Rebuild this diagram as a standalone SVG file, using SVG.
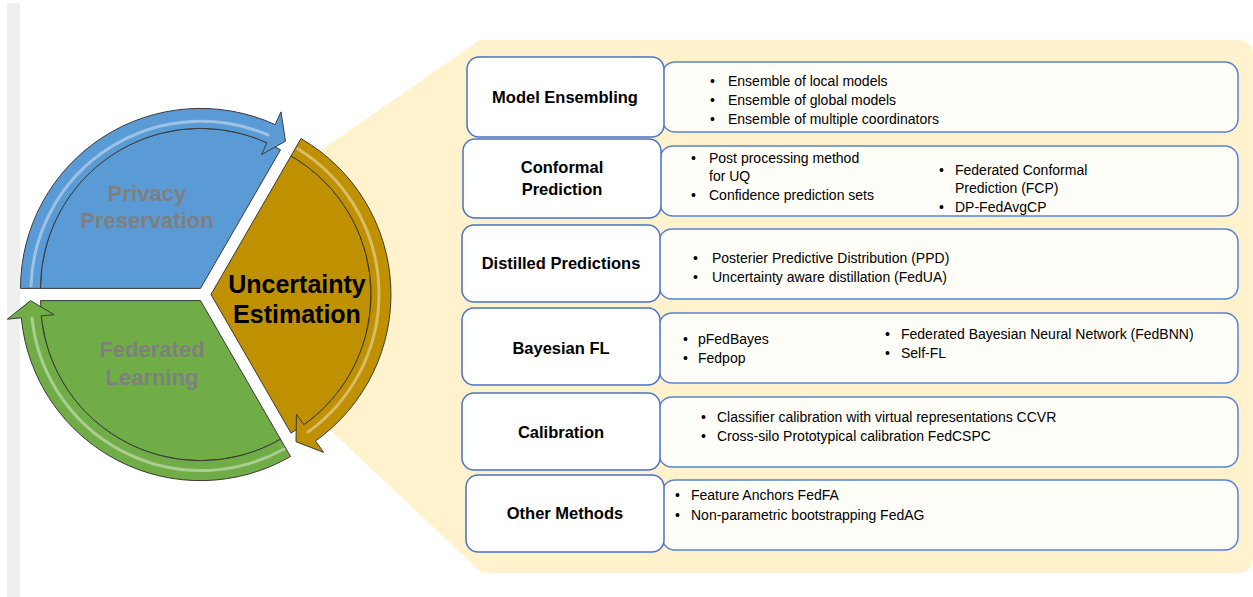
<svg xmlns="http://www.w3.org/2000/svg" width="1253" height="597" viewBox="0 0 1253 597">
<style>
.seg{stroke:#3a3a3a;stroke-width:1;stroke-linejoin:round}
.hl{fill:none;stroke:#ffffff;stroke-opacity:0.4;stroke-width:3;stroke-linecap:round}
.ring{font-family:"Liberation Sans",Arial,sans-serif;font-weight:bold;font-size:22px;fill:#7f7f7f;text-anchor:middle}
.main{font-family:"Liberation Sans",Arial,sans-serif;font-weight:bold;font-size:25px;fill:#000000;text-anchor:middle}
.tbox{fill:#ffffff;stroke:#4a72c4;stroke-width:1.5}
.cbox{fill:#fffdf8;stroke:#5b82d2;stroke-width:1.5}
.title{font-family:"Liberation Sans",Arial,sans-serif;font-weight:bold;font-size:16.5px;fill:#000000;text-anchor:middle}
.item{font-family:"Liberation Sans",Arial,sans-serif;font-size:14px;fill:#000000}
</style>
<rect x="0" y="0" width="1253" height="597" fill="#ffffff"/>
<rect x="7" y="3" width="13" height="594" fill="#efefef"/>
<path id="callout" d="M300,165 L480,40 H1237 Q1253,40 1253,56 V557 Q1253,573 1237,573 H482 L310,411 Z" fill="#fff2cc"/>

<g id="privacy-preservation">
<path class="seg" fill="#5b9bd5" d="M200.5,288.4 L40.5,288.4 A160,160 0 0 1 280.5,149.8 Z"/>
<path class="seg" fill="#5b9bd5" d="M20.5,288.4 A180,180 0 0 1 275.1,124.6 L281,111.9 L285.5,141.2 L261.5,154.6 L266.9,142.8 A160,160 0 0 0 40.5,288.4 Z"/>
<path class="hl" d="M31,286 A170,170 0 0 1 268,135"/>
<text class="ring" x="147" y="201">Privacy</text>
<text class="ring" x="147" y="228">Preservation</text>
</g>

<g id="uncertainty-estimation">
<path class="seg" fill="#bf9000" d="M211,294.5 L291,155.9 A160,160 0 0 1 291,433.1 Z"/>
<path class="seg" fill="#bf9000" d="M301,138.6 A180,180 0 0 1 315.5,441 L323.7,452.4 L296,441.7 L296.4,414.2 L303.9,424.8 A160,160 0 0 0 291,155.9 Z"/>
<path class="hl" d="M298,149 A170,170 0 0 1 308,432"/>
<text class="main" x="297" y="293">Uncertainty</text>
<text class="main" x="297" y="323">Estimation</text>
</g>

<g id="federated-learning">
<path class="seg" fill="#70ad47" d="M200.5,300.6 L280.5,439.2 A160,160 0 0 1 40.5,300.6 Z"/>
<path class="seg" fill="#70ad47" d="M290.5,456.5 A180,180 0 0 1 21.3,317.8 L7.4,319.2 L30.5,300.6 L54.2,314.7 L41.2,315.9 A160,160 0 0 0 280.5,439.2 Z"/>
<path class="hl" d="M284,449 A170,170 0 0 1 32,318"/>
<text class="ring" x="152" y="357">Federated</text>
<text class="ring" x="152" y="385">Learning</text>
</g>

<g id="connectors"></g>

<g id="content-boxes">
<rect class="cbox" x="662" y="62" width="576" height="70" rx="13"/>
<rect class="cbox" x="660" y="146" width="578" height="70" rx="13"/>
<rect class="cbox" x="659" y="229" width="579" height="70" rx="13"/>
<rect class="cbox" x="659" y="313" width="579" height="70" rx="13"/>
<rect class="cbox" x="659" y="397" width="579" height="70" rx="13"/>
<rect class="cbox" x="662" y="480" width="576" height="70" rx="13"/>
</g>

<g id="model-ensembling">
<rect class="tbox" x="467" y="57" width="197" height="80" rx="12"/>
<text class="title" x="565" y="103">Model Ensembling</text>
<text class="item" x="710" y="86">•</text><text class="item" x="728" y="86">Ensemble of local models</text>
<text class="item" x="710" y="105">•</text><text class="item" x="728" y="105">Ensemble of global models</text>
<text class="item" x="710" y="124">•</text><text class="item" x="728" y="124">Ensemble of multiple coordinators</text>
</g>

<g id="conformal-prediction">
<rect class="tbox" x="463" y="139" width="198" height="79" rx="12"/>
<text class="title" x="562" y="173">Conformal</text>
<text class="title" x="562" y="195">Prediction</text>
<text class="item" x="691" y="163">•</text><text class="item" x="709" y="163">Post processing method</text>
<text class="item" x="709" y="181">for UQ</text>
<text class="item" x="691" y="200">•</text><text class="item" x="709" y="200">Confidence prediction sets</text>
<text class="item" x="939" y="175">•</text><text class="item" x="955" y="175">Federated Conformal</text>
<text class="item" x="955" y="193">Prediction (FCP)</text>
<text class="item" x="939" y="212">•</text><text class="item" x="955" y="212">DP-FedAvgCP</text>
</g>

<g id="distilled-predictions">
<rect class="tbox" x="462" y="225" width="198" height="77" rx="12"/>
<text class="title" x="561" y="269">Distilled Predictions</text>
<text class="item" x="693" y="263">•</text><text class="item" x="712" y="263">Posterier Predictive Distribution (PPD)</text>
<text class="item" x="693" y="282">•</text><text class="item" x="712" y="282">Uncertainty aware distillation (FedUA)</text>
</g>

<g id="bayesian-fl">
<rect class="tbox" x="462" y="308" width="198" height="77" rx="12"/>
<text class="title" x="561" y="354">Bayesian FL</text>
<text class="item" x="683" y="344">•</text><text class="item" x="698" y="344">pFedBayes</text>
<text class="item" x="683" y="363">•</text><text class="item" x="698" y="363">Fedpop</text>
<text class="item" x="885" y="339">•</text><text class="item" x="901" y="339">Federated Bayesian Neural Network (FedBNN)</text>
<text class="item" x="885" y="358">•</text><text class="item" x="901" y="358">Self-FL</text>
</g>

<g id="calibration">
<rect class="tbox" x="462" y="393" width="198" height="77" rx="12"/>
<text class="title" x="561" y="438">Calibration</text>
<text class="item" x="701" y="422">•</text><text class="item" x="717" y="422">Classifier calibration with virtual representations CCVR</text>
<text class="item" x="701" y="441">•</text><text class="item" x="717" y="441">Cross-silo Prototypical calibration FedCSPC</text>
</g>

<g id="other-methods">
<rect class="tbox" x="466" y="475" width="198" height="77" rx="12"/>
<text class="title" x="565" y="519">Other Methods</text>
<text class="item" x="675" y="500">•</text><text class="item" x="691" y="500">Feature Anchors FedFA</text>
<text class="item" x="675" y="520">•</text><text class="item" x="691" y="520">Non-parametric bootstrapping FedAG</text>
</g>
</svg>
